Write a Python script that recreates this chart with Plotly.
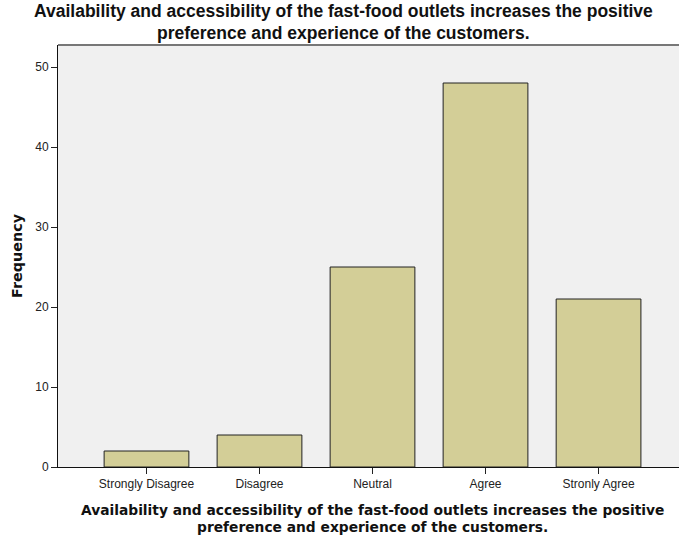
import plotly.graph_objects as go

# Survey responses and their counts
categories = ["Strongly Disagree", "Disagree", "Neutral", "Agree", "Stronly Agree"]
frequency = [2, 4, 25, 48, 21]
y_ticks = [0, 10, 20, 30, 40, 50]

title_lines = [
    "Availability and accessibility of the fast-food outlets increases the positive",
    "preference and experience of the customers.",
]

arial = "Liberation Sans, Arial, sans-serif"
wide = "DejaVu Sans, Verdana, sans-serif"

fig = go.Figure(
    go.Bar(
        x=categories,
        y=frequency,
        width=0.75,
        marker=dict(color="#D3CE97", line=dict(color="#222222", width=1)),
        hoverinfo="x+y",
    )
)

fig.update_layout(
    width=679,
    height=539,
    margin=dict(l=58, r=0, t=45, b=72),
    paper_bgcolor="white",
    plot_bgcolor="#F0F0F0",
    showlegend=False,
    font=dict(family=arial, color="#222222"),
    xaxis=dict(
        range=[-0.783, 4.712],
        showgrid=False,
        showline=True,
        linecolor="#111111",
        linewidth=1,
        ticks="outside",
        ticklen=6,
        tickcolor="#222222",
        tickfont=dict(size=12, color="#222222"),
        zeroline=False,
    ),
    yaxis=dict(
        range=[0, 52.75],
        tickvals=y_ticks,
        showgrid=False,
        showline=True,
        linecolor="#111111",
        linewidth=1,
        ticks="outside",
        ticklen=6,
        tickcolor="#222222",
        tickfont=dict(size=12, color="#222222"),
        zeroline=False,
    ),
)

# Chart title, one annotation per line (pixel-placed above the plot)
for i, line in enumerate(title_lines):
    fig.add_annotation(
        text="<b>" + line + "</b>", xref="paper", yref="paper",
        x=(343 - 58) / 621, y=1, yshift=34 - 21.5 * i,
        xanchor="center", yanchor="middle", showarrow=False, borderpad=0,
        font=dict(size=17.5, color="#111111", family=arial),
    )

# Category axis title, two lines under the tick labels
for i, line in enumerate(title_lines):
    fig.add_annotation(
        text="<b>" + line + "</b>", xref="paper", yref="paper",
        x=(372 - 58) / 621, y=0, yshift=-43 - 17 * i,
        xanchor="center", yanchor="middle", showarrow=False, borderpad=0,
        font=dict(size=13.8, color="#111111", family=wide),
    )

# Value axis title
fig.add_annotation(
    text="<b>Frequency</b>", xref="paper", yref="paper",
    x=0, xshift=-41, y=0.5, textangle=-90,
    xanchor="center", yanchor="middle", showarrow=False,
    font=dict(size=14.4, color="#111111", family=wide),
)

# Grey frame line along the top of the plotting area
fig.add_shape(
    type="line", xref="paper", yref="paper",
    x0=0, x1=1, y0=1, y1=1,
    line=dict(color="#777777", width=2),
)

fig.write_html("out.html")
